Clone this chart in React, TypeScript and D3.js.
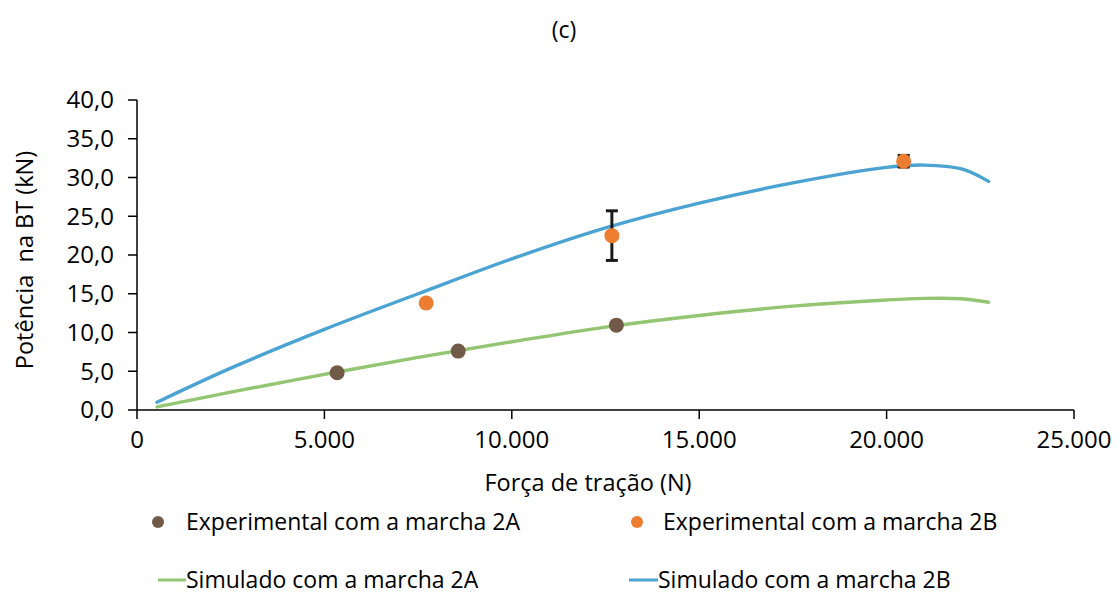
import React from "react";
import * as d3 from "d3";

const simForce = [534, 2500, 5000, 7500, 10000, 12500, 15000, 17500, 20000, 21000, 22000, 22720];
const sim2A = [0.4, 2.3, 4.6, 6.8, 8.8, 10.7, 12.2, 13.4, 14.2, 14.4, 14.35, 13.9];
const sim2B = [1.0, 5.4, 10.4, 15.0, 19.5, 23.5, 26.7, 29.3, 31.3, 31.6, 31.1, 29.5];

const exp2AForce = [5340, 8570, 12790];
const exp2A = [4.8, 7.6, 10.95];
const exp2BForce = [7715, 12670, 20456];
const exp2B = [13.8, 22.5, 32.1];
const exp2BErr = [0, 3.2, 0.75];

const xTicks = [0, 5000, 10000, 15000, 20000, 25000];
const yTicks = [0, 5, 10, 15, 20, 25, 30, 35, 40];

const C_GREEN = "#93C572";
const C_BLUE = "#4BA3D3";
const C_BROWN = "#725A48";
const C_ORANGE = "#ED7D31";
const FONT = "'Open Sans', sans-serif";

export default function App() {
  const W = 1119, H = 601;
  const x = d3.scaleLinear().domain([0, 25000]).range([137, 1074]);
  const y = d3.scaleLinear().domain([0, 40]).range([410, 100]);
  const fmtX = (v: number) => d3.format(",")(v).replace(/,/g, ".");
  const fmtY = (v: number) => v.toFixed(1).replace(".", ",");
  const line = d3.line<[number, number]>().x(d => x(d[0])).y(d => y(d[1])).curve(d3.curveCatmullRom.alpha(0.5));
  const d2A = line(simForce.map((f, i) => [f, sim2A[i]]))!;
  const d2B = line(simForce.map((f, i) => [f, sim2B[i]]))!;

  return (
    <svg width={W} height={H} style={{ position: "absolute", left: 0, top: 0, background: "#fff" }} fontFamily={FONT}>
      <rect width={W} height={H} fill="#fff" />
      <text x={564} y={38} textAnchor="middle" fontSize={23} fill="#000">(c)</text>
      {/* y axis */}
      <line x1={x(0)} x2={x(0)} y1={y(0)} y2={y(40)} stroke="#000" strokeWidth={1.5} />
      {yTicks.map(t => (
        <g key={"y" + t}>
          <line x1={x(0) - 9} x2={x(0)} y1={y(t)} y2={y(t)} stroke="#000" strokeWidth={1.5} />
          <text x={x(0) - 23} y={y(t)} dy="0.35em" textAnchor="end" fontSize={24} fill="#000">{fmtY(t)}</text>
        </g>
      ))}
      {/* x axis */}
      <line x1={x(0)} x2={x(25000)} y1={y(0)} y2={y(0)} stroke="#000" strokeWidth={1.5} />
      {xTicks.map(t => (
        <g key={"x" + t}>
          <line x1={x(t)} x2={x(t)} y1={y(0)} y2={y(0) + 9} stroke="#000" strokeWidth={1.5} />
          <text x={x(t)} y={y(0) + 38} textAnchor="middle" fontSize={24} fill="#000">{fmtX(t)}</text>
        </g>
      ))}
      <text x={588} y={491} textAnchor="middle" fontSize={23.5} fill="#000">Força de tração (N)</text>
      <text transform="translate(33,260) rotate(-90)" textAnchor="middle" fontSize={23.5} fill="#000" xmlSpace="preserve">{"Potência\u00A0 na BT (kN)"}</text>

      <path d={d2A} fill="none" stroke={C_GREEN} strokeWidth={3.4} strokeLinecap="round" />
      <path d={d2B} fill="none" stroke={C_BLUE} strokeWidth={3.4} strokeLinecap="round" />

      {exp2BForce.map((f, i) => exp2BErr[i] > 0 ? (
        <g key={"e" + i} stroke="#1a1a1a" strokeWidth={3}>
          <line x1={x(f)} x2={x(f)} y1={y(exp2B[i] - exp2BErr[i])} y2={y(exp2B[i] + exp2BErr[i])} />
          <line x1={x(f) - 6} x2={x(f) + 6} y1={y(exp2B[i] - exp2BErr[i])} y2={y(exp2B[i] - exp2BErr[i])} />
          <line x1={x(f) - 6} x2={x(f) + 6} y1={y(exp2B[i] + exp2BErr[i])} y2={y(exp2B[i] + exp2BErr[i])} />
        </g>
      ) : null)}
      {exp2AForce.map((f, i) => <circle key={"a" + i} cx={x(f)} cy={y(exp2A[i])} r={7.5} fill={C_BROWN} />)}
      {exp2BForce.map((f, i) => <circle key={"b" + i} cx={x(f)} cy={y(exp2B[i])} r={7.5} fill={C_ORANGE} />)}

      {/* legend */}
      <circle cx={158} cy={522} r={6} fill={C_BROWN} />
      <text x={186} y={522} dy="0.35em" fontSize={23} fill="#000">Experimental com a marcha 2A</text>
      <circle cx={637} cy={522} r={6} fill={C_ORANGE} />
      <text x={663} y={522} dy="0.35em" fontSize={23} fill="#000">Experimental com a marcha 2B</text>
      <line x1={158} x2={186} y1={580} y2={580} stroke={C_GREEN} strokeWidth={3} />
      <text x={186} y={580} dy="0.35em" fontSize={23} fill="#000">Simulado com a marcha 2A</text>
      <line x1={629} x2={658} y1={580} y2={580} stroke={C_BLUE} strokeWidth={3} />
      <text x={658} y={580} dy="0.35em" fontSize={23} fill="#000">Simulado com a marcha 2B</text>
    </svg>
  );
}
